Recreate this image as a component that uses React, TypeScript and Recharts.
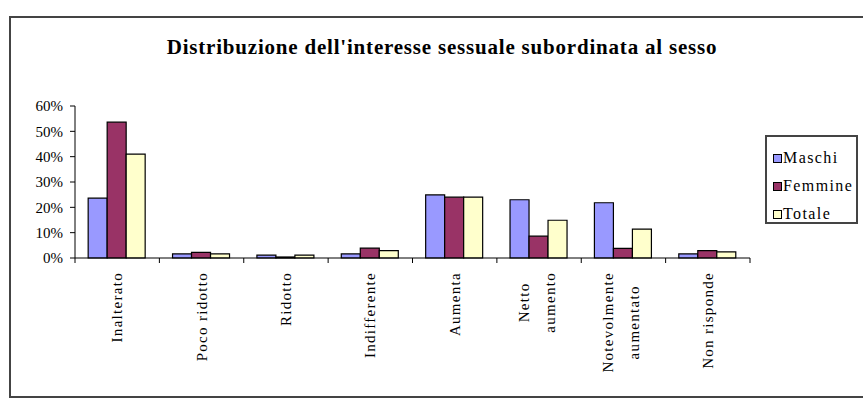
import React from 'react';
import { BarChart, Bar, XAxis, YAxis, Legend } from 'recharts';

// Categories (line breaks where the original label wraps)
const categories = [
  'Inalterato',
  'Poco ridotto',
  'Ridotto',
  'Indifferente',
  'Aumenta',
  'Netto\naumento',
  'Notevolmente\naumentato',
  'Non risponde',
];

// Shares (fractions)
const maschi = [0.236, 0.016, 0.011, 0.016, 0.249, 0.23, 0.218, 0.016];
const femmine = [0.536, 0.022, 0.004, 0.039, 0.24, 0.086, 0.038, 0.029];
const totale = [0.41, 0.016, 0.011, 0.029, 0.24, 0.149, 0.114, 0.024];

const yTicks = [0, 0.1, 0.2, 0.3, 0.4, 0.5, 0.6];

const seriesNames = ['Maschi', 'Femmine', 'Totale'];
const seriesColors = ['#9999FF', '#993366', '#FFFFCC'];

const data = categories.map((name, i) => ({
  name,
  Maschi: maschi[i],
  Femmine: femmine[i],
  Totale: totale[i],
}));

const FONT = '"Liberation Serif"';
const LABEL_SIZE = 15;
const LABEL_SPACING = 1.3;

// measure a label line so wrapped labels can be centred like Excel does
let ctx: CanvasRenderingContext2D | null = null;
function measure(text: string) {
  if (!ctx) ctx = document.createElement('canvas').getContext('2d');
  if (!ctx) return text.length * 7;
  ctx.font = `${LABEL_SIZE}px ${FONT}`;
  return ctx.measureText(text).width + LABEL_SPACING * text.length;
}

const XTick = (props: any) => {
  const { x, y, payload, index, visibleTicksCount } = props;
  const half = payload.offset || 675 / categories.length / 2;
  const lines = String(payload.value).split('\n');
  const maxLen = Math.max(...lines.map(measure));
  const top = y + 14;
  const mid = top + maxLen / 2;
  const gap = 26;
  const shift = lines.length > 1 ? -2 : 0;
  const isLast = index === (visibleTicksCount ?? categories.length) - 1;
  return (
    <g>
      <line x1={x - half} x2={x - half} y1={y} y2={y + 5} stroke="#000" />
      {isLast && <line x1={x + half} x2={x + half} y1={y} y2={y + 5} stroke="#000" />}
      {lines.map((ln, i) => {
        const bx = x + 5 + shift + (i - (lines.length - 1) / 2) * gap;
        return (
          <text
            key={i}
            x={bx}
            y={mid}
            transform={`rotate(-90, ${bx}, ${mid})`}
            textAnchor="middle"
            fontSize={LABEL_SIZE}
            fontFamily={FONT}
            fill="#000"
            style={{ letterSpacing: LABEL_SPACING }}
          >
            {ln}
          </text>
        );
      })}
    </g>
  );
};

// legend drawn in the series order, as in the original
const LegendBox = () => (
  <div
    style={{
      border: '2px solid #444',
      height: 89,
      boxSizing: 'border-box',
      paddingTop: 7,
      paddingLeft: 6,
      fontFamily: FONT,
      fontSize: 16,
      letterSpacing: 1.4,
      color: '#000',
    }}
  >
    {seriesNames.map((s, i) => (
      <div key={s} style={{ display: 'flex', alignItems: 'center', height: 28 }}>
        <span
          style={{
            display: 'inline-block',
            width: 7,
            height: 7,
            border: '1px solid #000',
            background: seriesColors[i],
            marginRight: 1,
          }}
        />
        <span>{s}</span>
      </div>
    ))}
  </div>
);

export default function App() {
  return (
    <div style={{ position: 'absolute', left: 0, top: 0, width: 863, height: 402, background: '#fff', overflow: 'hidden' }}>
      <div
        style={{
          position: 'absolute',
          left: 9,
          top: 16,
          width: 880,
          height: 382,
          border: '2px solid #444',
          boxSizing: 'border-box',
        }}
      />
      <div
        style={{
          position: 'absolute',
          left: 0,
          top: 35,
          width: 884,
          textAlign: 'center',
          fontFamily: FONT,
          fontWeight: 'bold',
          fontSize: 21,
          letterSpacing: 0.8,
          color: '#000',
        }}
      >
        Distribuzione dell'interesse sessuale subordinata al sesso
      </div>
      <div style={{ position: 'absolute', left: 0, top: 0 }}>
        <BarChart
          width={863}
          height={402}
          data={data}
          margin={{ top: 106, right: 113, left: 15, bottom: 2 }}
          barCategoryGap="15.6%"
          barGap={0}
        >
          <XAxis
            dataKey="name"
            interval={0}
            height={142}
            tickSize={0}
            tickMargin={0}
            tickLine={false}
            axisLine={{ stroke: '#000' }}
            tick={<XTick />}
          />
          <YAxis
            width={60}
            domain={[0, 0.6]}
            ticks={yTicks}
            interval={0}
            tickSize={5}
            tickMargin={7}
            axisLine={{ stroke: '#000' }}
            tickLine={{ stroke: '#000' }}
            tickFormatter={(v: number) => `${Math.round(v * 100)}%`}
            tick={{ fill: '#000', fontSize: 15, fontFamily: FONT }}
          />
          <Legend
            layout="vertical"
            align="center"
            verticalAlign="middle"
            content={<LegendBox />}
            wrapperStyle={{ left: 765, top: 135, width: 93 }}
          />
          {seriesNames.map((s, i) => (
            <Bar key={s} dataKey={s} fill={seriesColors[i]} stroke="#000" strokeWidth={1.2} isAnimationActive={false} />
          ))}
        </BarChart>
      </div>
    </div>
  );
}
